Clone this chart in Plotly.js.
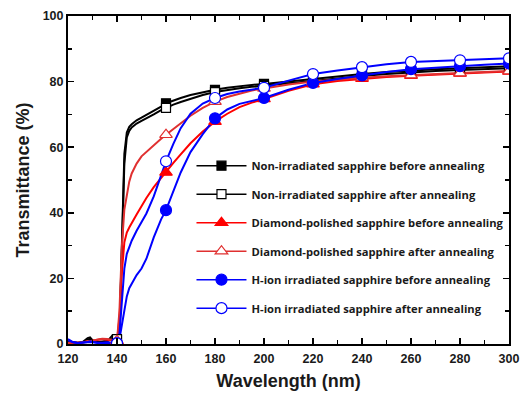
<!DOCTYPE html>
<html>
<head>
<meta charset="utf-8">
<script src="https://cdn.plot.ly/plotly-3.0.1.min.js"></script>
<style>html,body{margin:0;padding:0;background:#fff}#chart{width:521px;height:393px}</style>
</head>
<body>
<div id="chart"></div>
<script>
// Wavelength grid (nm)
const wavelength = [120,122,124,126,128,129,130,132,134,136,138,140,141,142,143,144,145,146,148,150,152,155,158,160,163,166,170,175,180,185,190,195,200,210,220,230,240,250,260,270,280,290,300];

// Transmittance (%) per sample
const nonIrrBefore = [0.8,0.5,0.4,0.6,1.8,2.0,1.2,0.6,0.8,0.9,1.5,1.2,3,30,58,64.5,66.2,67,68.2,69,69.8,71,72.4,73.4,74.3,75,75.9,76.8,77.5,78.1,78.6,79,79.3,80.1,80.8,81.6,82.3,82.9,83.4,83.8,84.1,84.4,84.7];
const nonIrrAfter  = [0.6,0.4,0.3,0.5,1.4,1.6,1.0,0.5,0.6,0.8,2.5,1.5,2.5,27,55,63,65,66,67.2,68,68.7,70,71.3,72,73,73.8,74.8,75.9,76.8,77.5,78,78.4,78.7,79.5,80.2,81,81.7,82.3,82.8,83.2,83.5,83.8,84.1];
const diamondBefore = [0.3,0.3,0.2,0.4,0.8,0.9,0.8,1.2,1.5,1.3,1.0,0.8,8,22,31,34,35.5,37,39.5,42,44.5,47.8,50.7,52.3,55.2,57.8,61.2,64.8,67.8,70.2,72.2,73.6,74.7,77.2,79.2,80.2,80.9,81.4,81.8,82.2,82.5,82.8,83.1];
const diamondAfter  = [0.4,0.4,0.3,0.5,0.9,1.0,0.9,1.4,1.6,1.5,1.2,1.0,10,30,41,46,49.5,52,55,57.2,58.6,60.6,62.6,63.8,65.6,67.3,69.6,72,73.9,75.3,76.4,77.3,77.9,79.1,80,80.7,81.2,81.6,82,82.3,82.6,82.9,83.2];
const hionBefore = [1.5,0.6,0.3,0.4,0.6,0.8,0.6,0.3,0.4,0.5,0.3,0.2,1.5,6,10.5,14.5,17,18.5,21,23,26,32.5,38,40.8,46.8,52.3,58.5,64,68.8,71.5,73.2,74.2,75,77.5,79.6,80.8,81.9,82.9,83.8,84.3,84.7,85.1,85.5];
const hionAfter  = [1.2,0.5,0.3,0.3,0.5,0.6,0.5,0.3,0.3,0.4,0.3,0.2,3,14,23,27.5,29.8,31.5,34.5,37,39.8,45,51.5,55.7,61,65.8,70.2,73.3,75,76.2,77,77.6,78.1,80.3,82.3,83.4,84.4,85.3,86,86.3,86.5,86.8,87.1];

const seriesNames = [
  "Non-irradiated sapphire before annealing",
  "Non-irradiated sapphire after annealing",
  "Diamond-polished sapphire before annealing",
  "Diamond-polished sapphire after annealing",
  "H-ion irradiated sapphire before annealing",
  "H-ion irradiated sapphire after annealing"
];
const seriesValues = [nonIrrBefore, nonIrrAfter, diamondBefore, diamondAfter, hionBefore, hionAfter];
const markerWavelengths = [140,160,180,200,220,240,260,280,300];

const styles = [
  {color:"#000000", symbol:"square",      fill:"#000000", size:9},
  {color:"#000000", symbol:"square",      fill:"#ffffff", size:9},
  {color:"#ff0000", symbol:"triangle-up", fill:"#ff0000", size:11},
  {color:"#e03030", symbol:"triangle-up", fill:"#ffffff", size:11},
  {color:"#0000ff", symbol:"circle",      fill:"#0000ff", size:11},
  {color:"#0000ff", symbol:"circle",      fill:"#ffffff", size:11}
];

const traces = [];
seriesValues.forEach((vals, i) => {
  const st = styles[i];
  traces.push({
    x: wavelength, y: vals, type: "scatter", mode: "lines",
    line: {color: st.color, width: 2},
    legendgroup: "g" + i, showlegend: false, hoverinfo: "skip"
  });
});
seriesValues.forEach((vals, i) => {
  const st = styles[i];
  const mx = [], my = [];
  wavelength.forEach((w, k) => {
    if (markerWavelengths.includes(w)) { mx.push(w, null); my.push(vals[k], null); }
  });
  traces.push({
    x: mx, y: my, type: "scatter", mode: "lines+markers", connectgaps: false,
    name: seriesNames[i], legendgroup: "g" + i,
    line: {color: st.color, width: 1.5},
    marker: {symbol: st.symbol, size: st.size, color: st.fill, line: {color: st.color, width: 1.2}}
  });
});

const axisCommon = {
  showline: true, linecolor: "#000", linewidth: 2, mirror: "ticks",
  ticks: "inside", ticklen: 6, tickwidth: 1.5, tickcolor: "#000",
  showgrid: false, zeroline: false, ticklabeloverflow: "allow",
  tickfont: {family: "Arial, Liberation Sans, sans-serif", size: 12.5, color: "#1a1a1a", weight: "bold"},
  minor: {ticks: "inside", ticklen: 4, tickwidth: 1.5, tickcolor: "#000", dtick: 10}
};

const layout = {
  width: 521, height: 393,
  margin: {l: 68, r: 12, t: 16, b: 49, autoexpand: false},
  paper_bgcolor: "#fff", plot_bgcolor: "#fff",
  xaxis: Object.assign({}, axisCommon, {
    range: [120, 300], dtick: 20, tick0: 120, ticklabelstandoff: 2,
    title: {text: "Wavelength (nm)", font: {family: "Arial, Liberation Sans, sans-serif", size: 18, color: "#1a1a1a", weight: "bold"}, standoff: 9}
  }),
  yaxis: Object.assign({}, axisCommon, {
    range: [0, 100], dtick: 20, tick0: 0,
    title: {text: "Transmittance (%)", font: {family: "Arial, Liberation Sans, sans-serif", size: 18, color: "#1a1a1a", weight: "bold"}, standoff: 8}
  }),
  showlegend: true,
  legend: {
    x: 0.28, y: 0.588, xanchor: "left", yanchor: "top",
    bgcolor: "rgba(0,0,0,0)", borderwidth: 0,
    font: {family: "Open Sans, sans-serif", size: 11.2, color: "#1a1a1a", weight: "bold"},
    traceorder: "grouped", tracegroupgap: 9.5, itemwidth: 50
  }
};

Plotly.newPlot("chart", traces, layout, {staticPlot: true, displayModeBar: false});
</script>
</body>
</html>
